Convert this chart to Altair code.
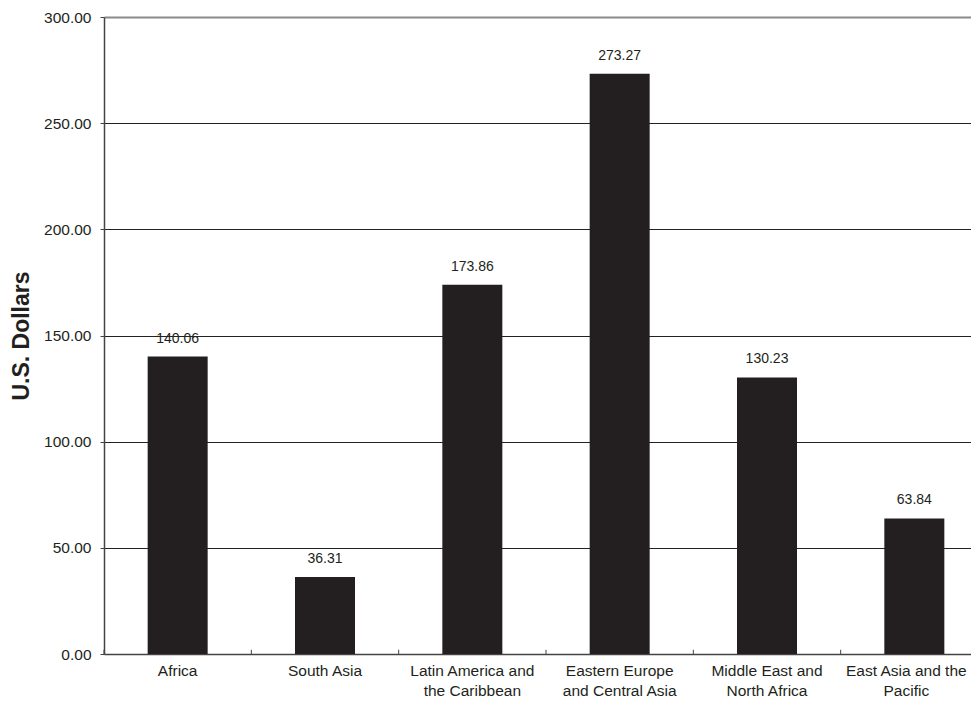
import altair as alt
import pandas as pd

# Data
regions = [
    "Africa",
    "South Asia",
    "Latin America and|the Caribbean",
    "Eastern Europe|and Central Asia",
    "Middle East and|North Africa",
    "East Asia and the|Pacific",
]
values = [140.06, 36.31, 173.86, 273.27, 130.23, 63.84]
y_ticks = [0, 50, 100, 150, 200, 250, 300]

df = pd.DataFrame({"region": regions, "value": values})

FONT = "Liberation Sans"
TXT = "#231f20"

xscale = alt.Scale(domain=regions, range=[0, 884], paddingInner=0, paddingOuter=0)
yscale = alt.Scale(domain=[0, 300], nice=False)

x_axis = alt.Axis(
    title=None,
    labelAngle=0,
    labelExpr="split(datum.label, '|')",
    labelFont=FONT,
    labelFontSize=15.5,
    labelColor=TXT,
    labelLineHeight=20.5,
    labelPadding=9,
    labelLimit=0,
    labelOffset=alt.condition(alt.datum.value == regions[-1], alt.value(-8), alt.value(0)),
    ticks=False,
    domainColor="#444",
    domainWidth=1.5,
    grid=False,
)

y_axis = alt.Axis(
    title="U.S. Dollars",
    titleFont=FONT,
    titleFontSize=23,
    titleFontWeight="bold",
    titleColor=TXT,
    titlePadding=10,
    values=y_ticks,
    format=".2f",
    labelFont=FONT,
    labelFontSize=15.5,
    labelColor=TXT,
    labelPadding=9,
    tickSize=4,
    tickColor="#444",
    domainColor="#444",
    domainWidth=1.5,
    grid=True,
    gridColor=alt.condition(alt.datum.value == 300, alt.value("#8a8a8a"), alt.value("#222222")),
    gridWidth=alt.condition(alt.datum.value == 300, alt.value(2), alt.value(1)),
)

base = alt.Chart(df)

bars = base.mark_bar(size=60, color="#231f20").encode(
    x=alt.X("region:N", sort=regions, scale=xscale, axis=x_axis),
    y=alt.Y("value:Q", scale=yscale, axis=y_axis),
)

ticks = base.mark_rule(color="#444", strokeWidth=1).encode(
    x=alt.X("region:N", sort=regions, scale=xscale, bandPosition=0),
    y=alt.datum(0),
    y2=alt.datum(2),
)

labels = base.mark_text(
    dy=-18, baseline="middle", font=FONT, fontSize=14, color=TXT
).encode(
    x=alt.X("region:N", sort=regions, scale=xscale),
    y=alt.Y("value:Q", scale=yscale),
    text=alt.Text("value:Q", format=".2f"),
)

chart = (
    alt.layer(bars, ticks, labels)
    .properties(
        width=867,
        height=637,
        padding={"left": 96, "top": 9, "right": 0, "bottom": 48},
        autosize=alt.AutoSizeParams(type="none"),
        background="white",
    )
    .configure_view(stroke=None)
)

chart.save("out.html", embed_options={"renderer": "svg", "actions": False})
